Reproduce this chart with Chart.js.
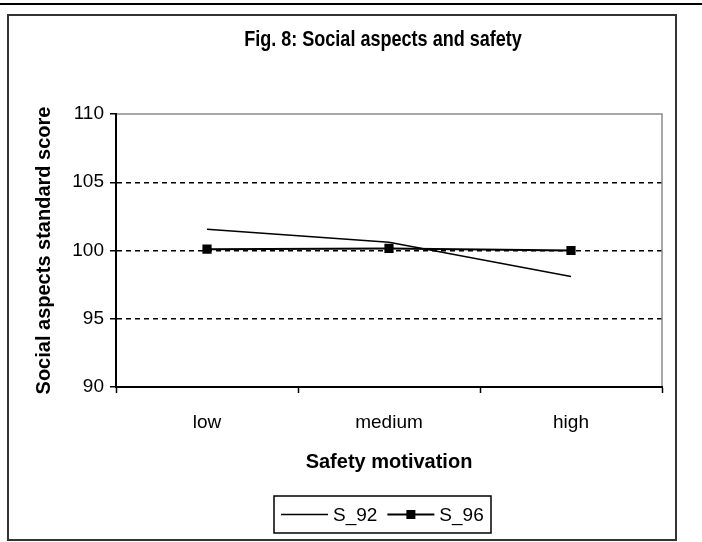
<!DOCTYPE html>
<html><head><meta charset="utf-8">
<script src="https://cdn.jsdelivr.net/npm/chart.js@4"></script>
<style>html,body{margin:0;padding:0;background:#fff;overflow:hidden}</style>
</head><body>
<canvas id="c" width="702" height="542"></canvas>
<script>
const categories = ['low', 'medium', 'high'];
const s92 = [101.55, 100.6, 98.1];
const s96 = [100.1, 100.15, 100.0];
const yTicks = [90, 95, 100, 105, 110];
const seriesNames = ['S_92', 'S_96'];
const chartTitle = 'Fig. 8: Social aspects and safety';
const xTitle = 'Safety motivation';
const yTitle = 'Social aspects standard score';

const FONT = 'Arial, "Liberation Sans", sans-serif';

const framePlugin = {
  id: 'frame',
  beforeDraw(chart) {
    const ctx = chart.ctx;
    ctx.save();
    ctx.fillStyle = '#fff';
    ctx.fillRect(0, 0, chart.width, chart.height);
    ctx.strokeStyle = '#000';
    ctx.lineWidth = 2;
    ctx.beginPath(); ctx.moveTo(0, 4); ctx.lineTo(chart.width, 4); ctx.stroke();
    ctx.strokeStyle = '#333';
    ctx.lineWidth = 2;
    ctx.strokeRect(8, 15, 668, 525);
    ctx.restore();
  },
  beforeDatasetsDraw(chart) {
    const { ctx, chartArea: a } = chart;
    ctx.save();
    ctx.strokeStyle = '#8c8c8c';
    ctx.lineWidth = 1.5;
    ctx.beginPath();
    ctx.moveTo(a.left + 1, a.top);
    ctx.lineTo(a.right, a.top);
    ctx.lineTo(a.right, a.bottom - 1);
    ctx.stroke();
    ctx.restore();
  },
  afterDraw(chart) {
    const ctx = chart.ctx;
    ctx.save();
    // title (condensed bold)
    ctx.fillStyle = '#000';
    ctx.font = 'bold 22px ' + FONT;
    ctx.textAlign = 'center';
    ctx.textBaseline = 'middle';
    ctx.translate(383, 40);
    ctx.scale(0.82, 1);
    ctx.fillText(chartTitle, 0, 0);
    ctx.setTransform(1, 0, 0, 1, 0, 0);
    // legend
    ctx.font = '19px ' + FONT;
    const sample = 47, gap1 = 5, gap2 = 10, pad = 7;
    const items = chart.data.datasets.map(ds => ({ ds, w: ctx.measureText(ds.label).width }));
    const total = pad * 2 + items.reduce((s, it) => s + sample + gap1 + it.w, 0) + gap2 * (items.length - 1);
    const cx = 382.5, cy = 514.5, h = 37;
    let x = Math.round(cx - total / 2);
    ctx.strokeStyle = '#000';
    ctx.lineWidth = 1.5;
    ctx.strokeRect(x, cy - h / 2, Math.round(total), h);
    x += pad;
    items.forEach(it => {
      const ds = it.ds;
      ctx.strokeStyle = ds.borderColor;
      ctx.lineWidth = ds.borderWidth;
      ctx.beginPath(); ctx.moveTo(x, cy); ctx.lineTo(x + sample, cy); ctx.stroke();
      if (ds.pointRadius > 0) {
        const side = 9;
        ctx.fillStyle = ds.pointBackgroundColor;
        ctx.fillRect(x + sample / 2 - side / 2, cy - side / 2, side, side);
      }
      ctx.fillStyle = '#000';
      ctx.textAlign = 'left';
      ctx.textBaseline = 'middle';
      ctx.fillText(ds.label, x + sample + gap1, cy + 1);
      x += sample + gap1 + it.w + gap2;
    });
    ctx.restore();
  }
};

new Chart(document.getElementById('c'), {
  type: 'line',
  data: {
    labels: categories,
    datasets: [
      { label: seriesNames[0], data: s92, borderColor: '#000', backgroundColor: '#000',
        borderWidth: 1.5, pointRadius: 0, tension: 0, fill: false },
      { label: seriesNames[1], data: s96, borderColor: '#000', backgroundColor: '#000',
        borderWidth: 2, pointStyle: 'rect', pointRadius: 6.5, pointBackgroundColor: '#000',
        pointBorderWidth: 0, tension: 0, fill: false }
    ]
  },
  options: {
    responsive: false, animation: false, devicePixelRatio: 1,
    layout: { padding: { top: 114, left: 20, right: 40, bottom: 60 } },
    plugins: { legend: { display: false }, title: { display: false }, tooltip: { enabled: false } },
    scales: {
      x: {
        type: 'category', offset: true,
        grid: { offset: true, drawOnChartArea: false, drawTicks: true, tickLength: 6,
                tickColor: '#000', tickWidth: 1.5, color: '#000' },
        border: { color: '#000', width: 2 },
        ticks: { color: '#000', font: { family: FONT, size: 19 }, padding: 18, maxRotation: 0 },
        title: { display: true, text: xTitle, color: '#000',
                 font: { family: FONT, size: 20, weight: 'bold' }, padding: { top: 0, bottom: 8 } },
        afterFit(s) { s.height = 95; }
      },
      y: {
        min: yTicks[0], max: yTicks[yTicks.length - 1],
        afterBuildTicks(s) { s.ticks = yTicks.map(v => ({ value: v })); },
        grid: {
          color: c => (c.tick && (c.tick.value === 90 || c.tick.value === 110)) ? 'rgba(0,0,0,0)' : '#000',
          lineWidth: 1.5, tickLength: 6, tickColor: '#000', tickWidth: 1.5
        },
        border: { color: '#000', width: 2, dash: [5, 4] },
        ticks: { color: '#000', font: { family: FONT, size: 19 }, padding: 6 },
        title: { display: true, text: yTitle, color: '#000',
                 font: { family: FONT, size: 20, weight: 'bold' }, padding: { top: 12, bottom: 0 } },
        afterFit(s) { s.width = 96; }
      }
    }
  },
  plugins: [framePlugin]
});
</script>
</body></html>
